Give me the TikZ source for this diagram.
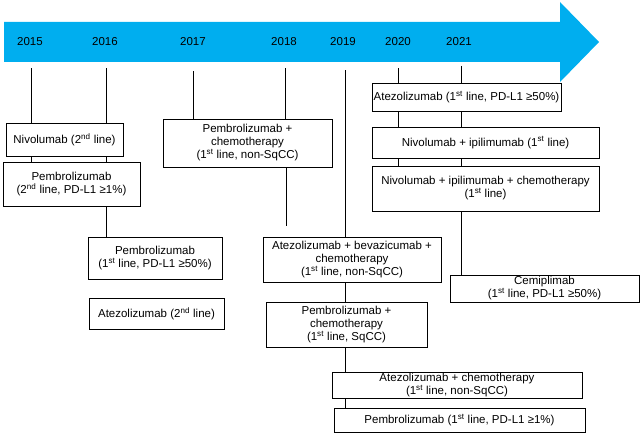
\documentclass[tikz,border=0pt]{standalone}
\usepackage{fontspec}
\setmainfont{Liberation Sans}
\usepackage{tikz}
\usetikzlibrary{positioning,calc}
\definecolor{arrowblue}{RGB}{0,174,239}

\begin{document}
\begin{tikzpicture}[x=1pt, y=-1pt,
    drug/.style 2 args={draw, line width=0.9pt, align=center, inner sep=0.5pt,
        minimum width=#1pt, minimum height=#2pt,
        font=\fontsize{11.5}{13}\selectfont},
    year/.style={font=\fontsize{11.5}{13}\selectfont},
    link/.style={line width=0.8pt}
]
    \useasboundingbox (0,0) rectangle (642,436);

    % Time arrow
    \fill[arrowblue] (4,22) -- (560,22) -- (560,2) -- (599,42) -- (560,82) -- (560,62) -- (4,62) -- cycle;

    % Years and the tops of their drop lines
    \foreach \yr/\lx/\x/\t in {2015/30/31/68, 2016/105/106/68, 2017/193/193/71, 2018/284/285/68,
                               2019/343/345/70, 2020/398/398/68, 2021/459/461/66} {
        \node[year] (y\yr) at (\lx, 42) {\yr};
        \coordinate (t\yr) at (\x, \t);
    }

    % Approvals
    \node[drug={117}{33}] (nivo2) at (64.5,139.5) {Nivolumab (2\textsuperscript{nd} line)};
    \node[drug={137}{44}] (pem2) at (71.5,184) {Pembrolizumab\\(2\textsuperscript{nd} line, PD-L1 ≥1\%)};
    \node[drug={134}{42}] (pem1) at (155,258) {Pembrolizumab\\(1\textsuperscript{st} line, PD-L1 ≥50\%)};
    \node[drug={135}{31}] (atezo2) at (156.5,313.5) {Atezolizumab (2\textsuperscript{nd} line)};
    \node[drug={169}{48}] (pemchemo) at (247.5,143) {Pembrolizumab +\\chemotherapy\\(1\textsuperscript{st} line, non-SqCC)};
    \node[drug={178}{45}] (atezobev) at (352,259.5) {Atezolizumab + bevazicumab +\\chemotherapy\\(1\textsuperscript{st} line, non-SqCC)};
    \node[drug={161}{45}] (pemsq) at (346.5,324.5) {Pembrolizumab +\\chemotherapy\\(1\textsuperscript{st} line, SqCC)};
    \node[drug={250}{26}] (atezochemo) at (457,385) {Atezolizumab + chemotherapy\\(1\textsuperscript{st} line, non-SqCC)};
    \node[drug={251}{24}] (pemone) at (459.5,420) {Pembrolizumab (1\textsuperscript{st} line, PD-L1 ≥1\%)};
    \node[drug={189}{28}] (atezo1) at (466.5,97) {Atezolizumab (1\textsuperscript{st} line, PD-L1 ≥50\%)};
    \node[drug={227}{31}] (nivoipi) at (485.5,142.5) {Nivolumab + ipilimumab (1\textsuperscript{st} line)};
    \node[drug={227}{45}] (nivoipichemo) at (485.5,188.5) {Nivolumab + ipilimumab + chemotherapy\\(1\textsuperscript{st} line)};
    \node[drug={189}{27}] (cemi) at (544.5,288.5) {Cemiplimab\\(1\textsuperscript{st} line, PD-L1 ≥50\%)};

    % 2015
    \draw[link] (t2015) -- (t2015 |- nivo2.north);
    \draw[link] (nivo2.south -| t2015) -- (pem2.north -| t2015);
    % 2016
    \draw[link] (t2016) -- (t2016 |- nivo2.north);
    \draw[link] (nivo2.south -| t2016) -- (pem2.north -| t2016);
    \draw[link] (pem2.south -| t2016) -- (pem1.north -| t2016);
    % 2017
    \draw[link] (t2017) -- (t2017 |- pemchemo.north);
    % 2018
    \coordinate (e2018) at (286,226);
    \draw[link] (t2018) -- (t2018 |- pemchemo.north);
    \draw[link] (pemchemo.south -| e2018) -- (e2018);
    % 2019
    \draw[link] (t2019) -- (t2019 |- atezobev.north);
    \draw[link] (atezobev.south -| t2019) -- (pemsq.north -| t2019);
    \draw[link] (pemsq.south -| t2019) -- (atezochemo.north -| t2019);
    \draw[link] (atezochemo.south -| t2019) -- (pemone.north -| t2019);
    % 2020
    \draw[link] (t2020) -- (t2020 |- atezo1.north);
    \draw[link] (atezo1.south -| t2020) -- (nivoipi.north -| t2020);
    \draw[link] (nivoipi.south -| t2020) -- (nivoipichemo.north -| t2020);
    % 2021
    \draw[link] (t2021) -- (t2021 |- atezo1.north);
    \draw[link] (atezo1.south -| t2021) -- (nivoipi.north -| t2021);
    \draw[link] (nivoipi.south -| t2021) -- (nivoipichemo.north -| t2021);
    \draw[link] (nivoipichemo.south -| t2021) -- (cemi.north -| t2021);
\end{tikzpicture}
\end{document}
